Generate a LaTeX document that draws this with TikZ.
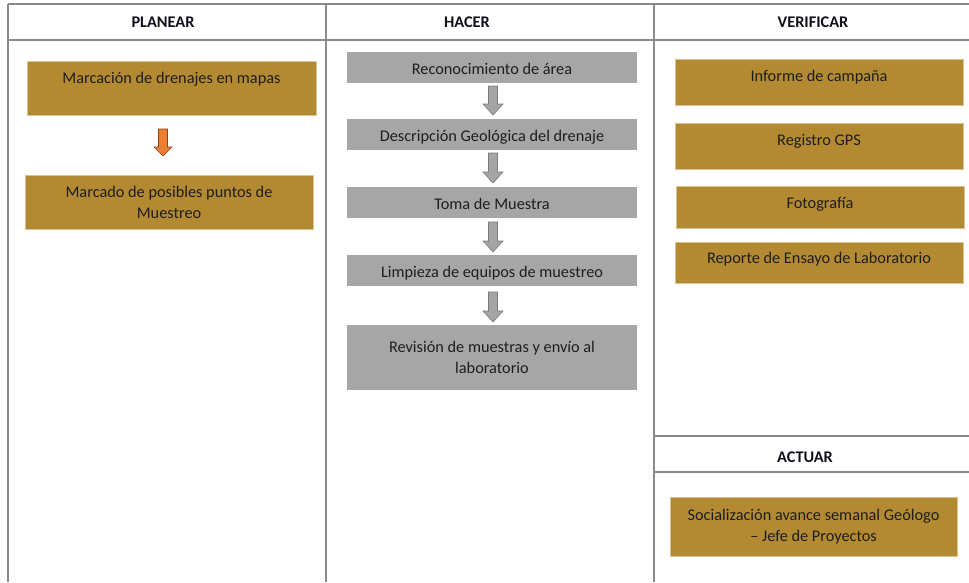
\documentclass[tikz,border=0pt]{standalone}
\usepackage{fontspec}
\setmainfont{Carlito}
\usetikzlibrary{calc}

\definecolor{gridgray}{HTML}{8A8A8A}
\definecolor{gold}{HTML}{B38A32}
\definecolor{goldedge}{HTML}{D9C393}
\definecolor{boxgray}{HTML}{A6A6A6}
\definecolor{arrowgray}{HTML}{A5A5A5}
\definecolor{arrowedge}{HTML}{7A7A7A}
\definecolor{orangefill}{HTML}{ED7D31}
\definecolor{orangeedge}{HTML}{8C4416}
\definecolor{inktext}{HTML}{1E1E1E}
\definecolor{headink}{HTML}{10101C}

% block arrow from the bottom of one box to the top of the next
% #1 style, #2 source, #3 target, #4 x shift, #5 gap below source,
% #6 gap above target, #7 half shaft width, #8 half head width, #9 head length
\newcommand{\blockarrow}[9]{%
  \draw[#1] ($(#2.south)+(#4-#7,#5)$) -- ($(#2.south)+(#4+#7,#5)$)
    -- ($(#3.north -| #2.south)+(#4+#7,-#6-#9)$)
    -- ($(#3.north -| #2.south)+(#4+#8,-#6-#9)$)
    -- ($(#3.north -| #2.south)+(#4,-#6)$)
    -- ($(#3.north -| #2.south)+(#4-#8,-#6-#9)$)
    -- ($(#3.north -| #2.south)+(#4-#7,-#6-#9)$) -- cycle;}

\begin{document}
\begin{tikzpicture}[x=1pt,y=-1pt,
  grid/.style={draw=gridgray, line width=1.6pt},
  header/.style={font=\fontsize{16.3}{21}\selectfont\bfseries, text=headink, inner sep=0pt},
  box/.style={anchor=north west, inner sep=0pt, outer sep=0pt, text=inktext,
    font=\fontsize{16.3}{21}\selectfont, align=center},
  goldbox/.style={box, fill=gold, draw=goldedge, line width=0.6pt},
  graybox/.style={box, fill=boxgray, minimum width=290pt, text height=22pt, text depth=9pt},
  grayarrow/.style={fill=arrowgray, draw=arrowedge, line width=0.6pt},
  orangearrow/.style={fill=orangefill, draw=orangeedge, line width=0.6pt}]

\useasboundingbox (0,0) rectangle (969,582);

% table frame
\draw[grid] (8,4) -- (969,4);
\draw[grid] (8,40) -- (969,40);
\draw[grid] (8,4) -- (8,582);
\draw[grid] (326,4) -- (326,582);
\draw[grid] (654,4) -- (654,582);
\draw[grid] (654,436) -- (969,436);
\draw[grid] (654,472) -- (969,472);

% column headings
\node[header] (hplan) at (163,22) {PLANEAR};
\node[header] (hhac) at (467,22) {HACER};
\node[header] (hver) at (813,22) {VERIFICAR};
\node[header] (hact) at (805,457) {ACTUAR};

% PLANEAR
\node[goldbox, minimum width=289pt, text height=22pt, text depth=32pt] (p1) at (27,61)
  {Marcación de drenajes en mapas};
\node[goldbox, minimum width=288pt, minimum height=54pt] (p2) at (25,175)
  {Marcado de posibles puntos de\\Muestreo};
\blockarrow{orangearrow}{p1}{p2}{-8.5}{14}{19}{4.5}{9}{9}

% HACER
\node[graybox] (h1) at (347,52) {Reconocimiento de área};
\node[graybox] (h2) at (347,119) {Descripción Geológica del drenaje};
\node[graybox] (h3) at (347,187) {Toma de Muestra};
\node[graybox] (h4) at (347,255) {Limpieza de equipos de muestreo};
\node[box, fill=boxgray, minimum width=290pt, minimum height=65pt] (h5) at (347,325)
  {Revisión de muestras y envío al\\laboratorio};
\blockarrow{grayarrow}{h1}{h2}{1}{3}{4}{4.5}{10}{11}
\blockarrow{grayarrow}{h2}{h3}{1}{3}{4}{4.5}{10}{11}
\blockarrow{grayarrow}{h3}{h4}{1}{4}{3}{4.5}{10}{11}
\blockarrow{grayarrow}{h4}{h5}{1}{6}{3}{4.5}{10}{11}

% VERIFICAR
\node[goldbox, minimum width=288pt, text height=22pt, text depth=24pt] (v1) at (675,59)
  {Informe de campaña};
\node[goldbox, minimum width=288pt, text height=22pt, text depth=24pt] (v2) at (675,123)
  {Registro GPS};
\node[goldbox, minimum width=288pt, text height=22pt, text depth=20pt] (v3) at (676,186)
  {Fotografía};
\node[goldbox, minimum width=288pt, text height=21pt, text depth=20pt] (v4) at (675,242)
  {Reporte de Ensayo de Laboratorio};

% ACTUAR
\node[goldbox, minimum width=287pt, minimum height=59pt] (a1) at (670,497)
  {Socialización avance semanal Geólogo\\– Jefe de Proyectos};

\end{tikzpicture}
\end{document}
